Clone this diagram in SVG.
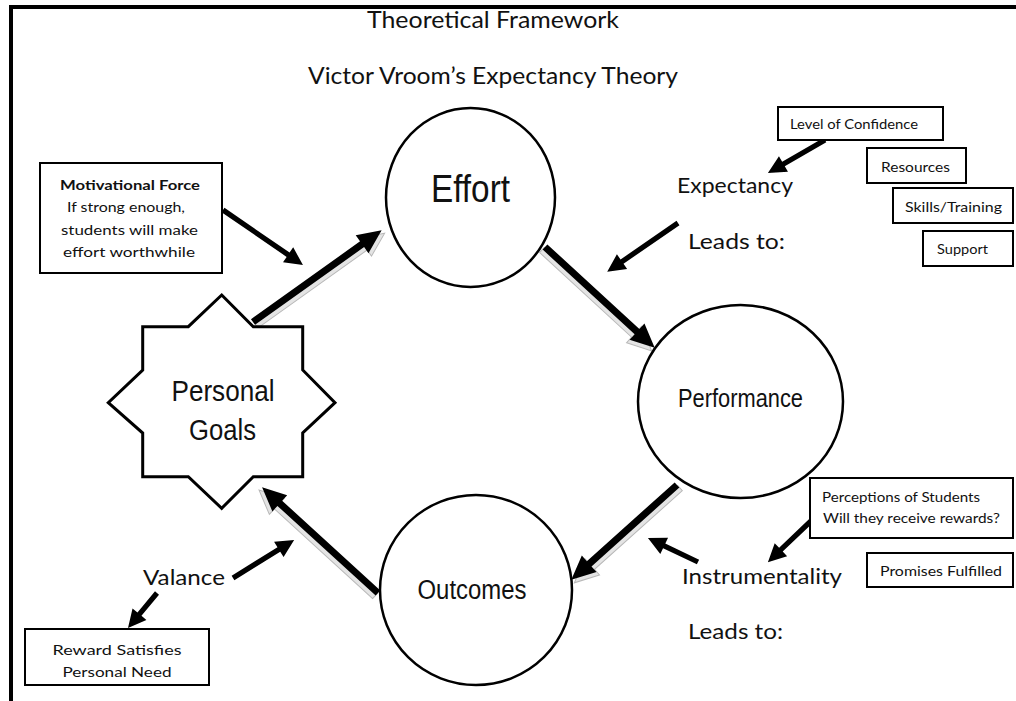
<svg xmlns="http://www.w3.org/2000/svg" width="1016" height="701" viewBox="0 0 1016 701">
<style>
.bg{fill:#ffffff}
.frame{stroke:#000;stroke-width:4;fill:none}
.circ{fill:#fff;stroke:#000;stroke-width:2.5}
.star{fill:#fff;stroke:#000;stroke-width:3;stroke-linejoin:miter}
.box{fill:#fff;stroke:#000;stroke-width:2}
.big{fill:#000}
.shadow{fill:#e4e4e4;stroke:#b8b8b8;stroke-width:1}
.small{fill:#000}
.title{font-family:Lato,"Liberation Sans",sans-serif;font-size:23px;fill:#111;text-anchor:middle}
.label{font-family:Lato,"Liberation Sans",sans-serif;font-size:22px;fill:#111}
.node{font-family:"Liberation Sans",Arial,sans-serif;fill:#111;text-anchor:middle}
.bt{font-family:Lato,"Liberation Sans",sans-serif;font-size:14px;fill:#111}
.c{text-anchor:middle}
</style>
<rect class="bg" x="0" y="0" width="1016" height="701"/>
<g id="frame">
<line class="frame" x1="11" y1="7" x2="1016" y2="7"/>
<line class="frame" x1="11" y1="5" x2="11" y2="701"/>
</g>
<g id="titles">
<text class="title" x="493" y="28" textLength="252" lengthAdjust="spacingAndGlyphs">Theoretical Framework</text>
<text class="title" x="493" y="84" font-size="25" textLength="370" lengthAdjust="spacingAndGlyphs">Victor Vroom’s Expectancy Theory</text>
</g>
<g id="connectors">
<path class="shadow" transform="translate(256,325) rotate(-35.5)" d="M0,-3.5 H134 V-11 L158,0 L134,11 V3.5 H0 Z"/>
<path class="big" transform="translate(253,322) rotate(-35.5)" d="M0,-3.5 H134 V-11 L158,0 L134,11 V3.5 H0 Z"/>
<path class="shadow" transform="translate(542,250) rotate(42.6)" d="M0,-3.5 H125 V-11 L149,0 L125,11 V3.5 H0 Z"/>
<path class="big" transform="translate(545,247) rotate(42.6)" d="M0,-3.5 H125 V-11 L149,0 L125,11 V3.5 H0 Z"/>
<path class="shadow" transform="translate(680,488) rotate(138.1)" d="M0,-3.5 H118 V-11 L142,0 L118,11 V3.5 H0 Z"/>
<path class="big" transform="translate(677,485) rotate(138.1)" d="M0,-3.5 H118 V-11 L142,0 L118,11 V3.5 H0 Z"/>
<path class="shadow" transform="translate(375,596) rotate(-137.6)" d="M0,-3.5 H133 V-11 L157,0 L133,11 V3.5 H0 Z"/>
<path class="big" transform="translate(378,593) rotate(-137.6)" d="M0,-3.5 H133 V-11 L157,0 L133,11 V3.5 H0 Z"/>
<path class="small" transform="translate(223,210) rotate(34.5)" d="M0,-2.6 H79 V-9 L97,0 L79,9 V2.6 H0 Z"/>
<path class="small" transform="translate(825,140) rotate(149.9)" d="M0,-2.6 H48 V-9 L66,0 L48,9 V2.6 H0 Z"/>
<path class="small" transform="translate(678,223) rotate(145.4)" d="M0,-2.6 H68 V-9 L86,0 L68,9 V2.6 H0 Z"/>
<path class="small" transform="translate(812,520) rotate(136.3)" d="M0,-2.6 H43 V-9 L61,0 L43,9 V2.6 H0 Z"/>
<path class="small" transform="translate(698,562) rotate(-154.4)" d="M0,-2.6 H37.5 V-9 L55.5,0 L37.5,9 V2.6 H0 Z"/>
<path class="small" transform="translate(233,578) rotate(-31.9)" d="M0,-2.6 H54 V-9 L72,0 L54,9 V2.6 H0 Z"/>
<path class="small" transform="translate(157,593) rotate(129.6)" d="M0,-2.6 H27.5 V-9 L45.5,0 L27.5,9 V2.6 H0 Z"/>
</g>
<g id="effort">
<ellipse class="circ" cx="470.5" cy="197.5" rx="84.5" ry="89.5"/>
<text class="node" x="470.5" y="202" font-size="38" textLength="79" lengthAdjust="spacingAndGlyphs">Effort</text>
</g>
<g id="performance">
<ellipse class="circ" cx="740.5" cy="401.5" rx="102.5" ry="96.5"/>
<text class="node" x="740.5" y="407" font-size="26" textLength="125" lengthAdjust="spacingAndGlyphs">Performance</text>
</g>
<g id="outcomes">
<ellipse class="circ" cx="476" cy="590" rx="96" ry="95"/>
<text class="node" x="472" y="599" font-size="27" textLength="109" lengthAdjust="spacingAndGlyphs">Outcomes</text>
</g>
<g id="personal-goals">
<polygon class="star" points="221.7,295 253.3,326.7 302.7,326.7 302.7,370 335,402.7 302.7,433 302.7,476.7 253.3,476.7 221.7,508.3 188.3,476.7 142.7,476.7 142.7,433 108.3,402.7 142.7,370 142.7,326.7 188.3,326.7"/>
<text class="node" x="223" y="401" font-size="30" textLength="103" lengthAdjust="spacingAndGlyphs">Personal</text>
<text class="node" x="222.5" y="440" font-size="30" textLength="67" lengthAdjust="spacingAndGlyphs">Goals</text>
</g>
<g id="motivational-force">
<rect class="box" x="40" y="163" width="182" height="110"/>
<text class="bt c" x="130" y="190" font-weight="bold" textLength="140" lengthAdjust="spacingAndGlyphs">Motivational Force</text>
<text class="bt c" x="126" y="212" textLength="118" lengthAdjust="spacingAndGlyphs">If strong enough,</text>
<text class="bt c" x="129.5" y="235" textLength="137" lengthAdjust="spacingAndGlyphs">students will make</text>
<text class="bt c" x="129" y="257" textLength="132" lengthAdjust="spacingAndGlyphs">effort worthwhile</text>
</g>
<g id="expectancy">
<text class="label" x="677" y="193" textLength="116" lengthAdjust="spacingAndGlyphs">Expectancy</text>
<text class="label" x="688" y="249" textLength="97" lengthAdjust="spacingAndGlyphs">Leads to:</text>
</g>
<g id="level-of-confidence">
<rect class="box" x="778" y="107" width="165" height="33"/>
<text class="bt" x="790" y="129" textLength="128" lengthAdjust="spacingAndGlyphs">Level of Confidence</text>
</g>
<g id="resources">
<rect class="box" x="867" y="148" width="99" height="35"/>
<text class="bt" x="881" y="172" textLength="69" lengthAdjust="spacingAndGlyphs">Resources</text>
</g>
<g id="skills-training">
<rect class="box" x="893" y="188" width="120" height="35"/>
<text class="bt" x="905" y="212" textLength="97" lengthAdjust="spacingAndGlyphs">Skills/Training</text>
</g>
<g id="support">
<rect class="box" x="923" y="231" width="90" height="35"/>
<text class="bt" x="937" y="254" textLength="51" lengthAdjust="spacingAndGlyphs">Support</text>
</g>
<g id="instrumentality">
<text class="label" x="682" y="584" textLength="160" lengthAdjust="spacingAndGlyphs">Instrumentality</text>
<text class="label" x="688" y="639" textLength="95" lengthAdjust="spacingAndGlyphs">Leads to:</text>
</g>
<g id="perceptions">
<rect class="box" x="810" y="478" width="203" height="60"/>
<text class="bt" x="822" y="502" textLength="158" lengthAdjust="spacingAndGlyphs">Perceptions of Students</text>
<text class="bt" x="823" y="523" textLength="177" lengthAdjust="spacingAndGlyphs">Will they receive rewards?</text>
</g>
<g id="promises-fulfilled">
<rect class="box" x="867" y="553" width="146" height="34"/>
<text class="bt" x="880" y="576" textLength="122" lengthAdjust="spacingAndGlyphs">Promises Fulfilled</text>
</g>
<g id="valance">
<text class="label" x="143" y="585" textLength="82" lengthAdjust="spacingAndGlyphs">Valance</text>
</g>
<g id="reward">
<rect class="box" x="25" y="629" width="184" height="56"/>
<text class="bt c" x="117" y="655" textLength="129" lengthAdjust="spacingAndGlyphs">Reward Satisfies</text>
<text class="bt c" x="117" y="677" textLength="109" lengthAdjust="spacingAndGlyphs">Personal Need</text>
</g>
</svg>
